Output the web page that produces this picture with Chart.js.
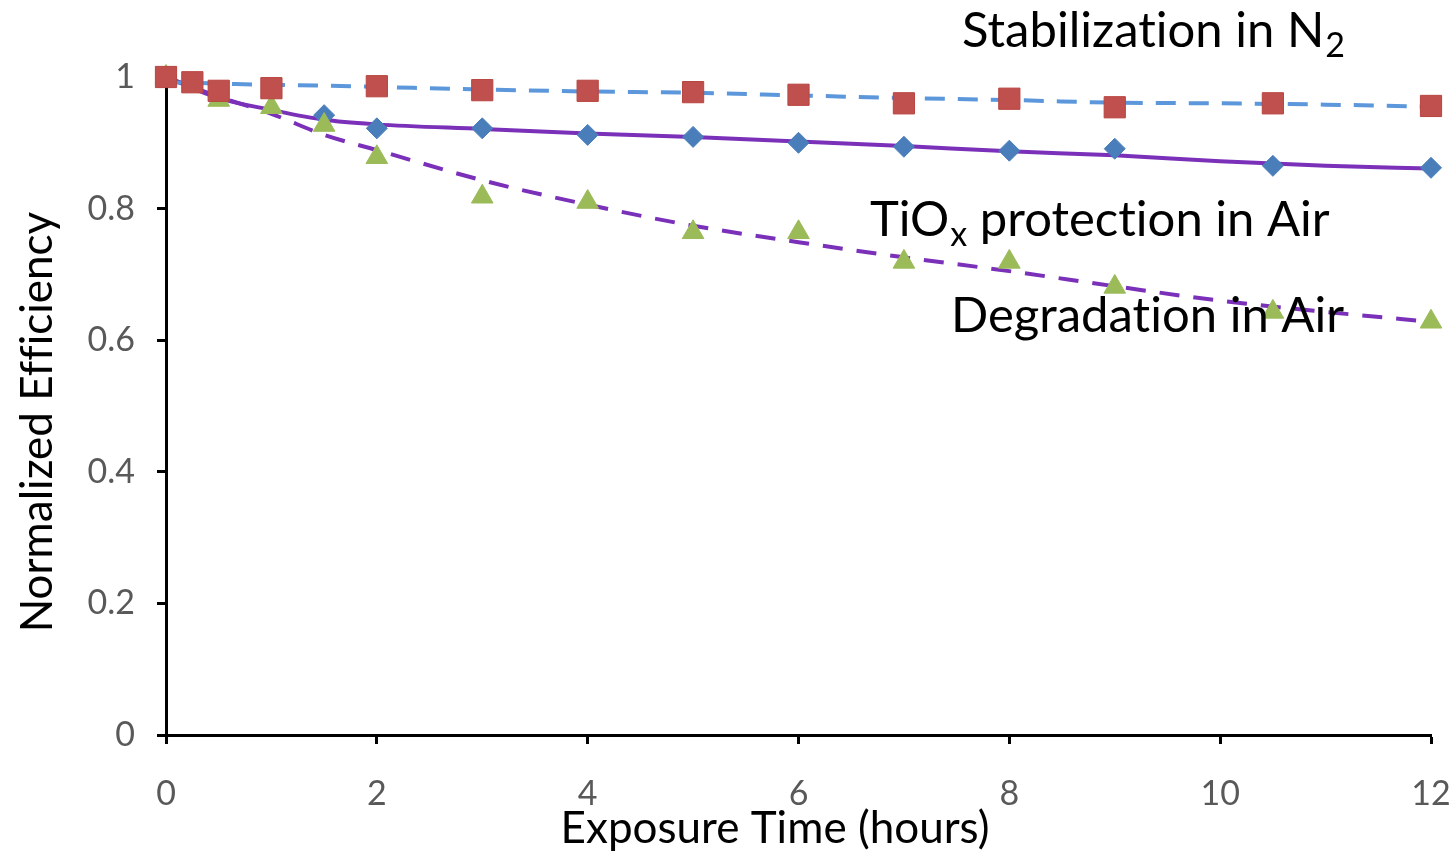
<!DOCTYPE html>
<html>
<head>
<meta charset="utf-8">
<script src="https://cdn.jsdelivr.net/npm/chart.js@4"></script>
<style>
html,body{margin:0;padding:0;background:#fff;}
#wrap{width:1456px;height:854px;}
</style>
</head>
<body>
<div id="wrap"><canvas id="c" width="1456" height="854"></canvas></div>
<script>
// ---- data ----
const xTicks = [0, 2, 4, 6, 8, 10, 12];
const yTicks = [0, 0.2, 0.4, 0.6, 0.8, 1];

const hoursN2 = [0, 0.25, 0.5, 1, 2, 3, 4, 5, 6, 7, 8, 9, 10.5, 12];
const effN2   = [1.0, 0.992, 0.979, 0.983, 0.986, 0.980, 0.979, 0.977, 0.973, 0.960, 0.967, 0.954, 0.960, 0.956];

const hoursTiOx = [0, 1.5, 2, 3, 4, 5, 6, 7, 8, 9, 10.5, 12];
const effTiOx   = [1.0, 0.942, 0.922, 0.922, 0.912, 0.909, 0.900, 0.894, 0.888, 0.891, 0.865, 0.862];

const hoursAir = [0, 0.5, 1, 1.5, 2, 3, 4, 5, 6, 7, 8, 9, 10.5, 12];
const effAir   = [1.0, 0.965, 0.954, 0.927, 0.878, 0.818, 0.810, 0.764, 0.764, 0.719, 0.719, 0.681, 0.643, 0.628];

const trendHours = [0, 0.5, 1, 1.5, 2, 3, 4, 5, 6, 7, 8, 9, 10, 11, 12];
const trendN2    = [0.992, 0.990, 0.988, 0.987, 0.985, 0.981, 0.978, 0.976, 0.972, 0.968, 0.965, 0.961, 0.960, 0.958, 0.955];
const trendTiOx  = [1.0, 0.968, 0.950, 0.935, 0.928, 0.921, 0.914, 0.909, 0.902, 0.895, 0.887, 0.881, 0.872, 0.865, 0.861];
const trendAir   = [1.0, 0.970, 0.944, 0.912, 0.889, 0.843, 0.806, 0.774, 0.749, 0.726, 0.705, 0.682, 0.660, 0.643, 0.628];

const labelN2   = ['Stabilization in N', '2'];
const labelTiOx = ['TiO', 'x', ' protection in Air'];
const labelAir  = 'Degradation in Air';
const xTitle = 'Exposure Time (hours)';
const yTitle = 'Normalized Efficiency';

// ---- helpers ----
const pts = (xs, ys) => xs.map((x, i) => ({x: x, y: ys[i]}));
const FONT = 'Lato';

const textPlugin = {
  id: 'texts',
  afterDraw(chart) {
    const ctx = chart.ctx;
    ctx.save();
    ctx.fillStyle = '#000';
    ctx.textBaseline = 'alphabetic';
    ctx.textAlign = 'left';
    if ('letterSpacing' in ctx) ctx.letterSpacing = '0.01px';
    const big = '49px ' + FONT;
    const sub = '34px ' + FONT;
    // Stabilization in N2
    ctx.font = big;
    let x = 962, y = 47;
    ctx.fillText(labelN2[0], x, y);
    x += ctx.measureText(labelN2[0]).width + 1;
    ctx.font = sub;
    ctx.fillText(labelN2[1], x, y + 10);
    // TiOx protection in Air
    ctx.font = big;
    x = 870; y = 236;
    ctx.fillText(labelTiOx[0], x, y);
    x += ctx.measureText(labelTiOx[0]).width + 1;
    ctx.font = sub;
    ctx.fillText(labelTiOx[1], x, y + 10);
    x += ctx.measureText(labelTiOx[1]).width;
    ctx.font = big;
    ctx.fillText(labelTiOx[2], x, y);
    // Degradation in Air
    ctx.fillText(labelAir, 951, 332);
    // axis titles
    ctx.font = '44px ' + FONT;
    ctx.textAlign = 'center';
    ctx.fillText(xTitle, 775, 843);
    ctx.save();
    ctx.translate(52, 422);
    ctx.rotate(-Math.PI / 2);
    ctx.fillText(yTitle, 0, 0);
    ctx.restore();
    ctx.restore();
  }
};

const axisCommon = {
  grid: {display: true, drawOnChartArea: false, drawTicks: true, tickLength: 9, tickWidth: 3, tickColor: '#000', color: '#000'},
  border: {display: true, color: '#000', width: 3}
};

new Chart(document.getElementById('c'), {
  type: 'scatter',
  data: {
    datasets: [
      {label: 'N2 trend', data: pts(trendHours, trendN2), showLine: true, borderColor: '#5B97DA', borderWidth: 4,
       borderDash: [20, 13], pointRadius: 0, cubicInterpolationMode: 'monotone', order: 5, clip: false},
      {label: 'TiOx trend', data: pts(trendHours, trendTiOx), showLine: true, borderColor: '#7A30B8', borderWidth: 4,
       pointRadius: 0, cubicInterpolationMode: 'monotone', order: 5, clip: false},
      {label: 'Air trend', data: pts(trendHours, trendAir), showLine: true, borderColor: '#7A30B8', borderWidth: 4,
       borderDash: [20, 14], pointRadius: 0, cubicInterpolationMode: 'monotone', order: 6, clip: false},
      {label: 'Stabilization in N2', data: pts(hoursN2, effN2), pointStyle: 'rect', pointRadius: 15,
       backgroundColor: '#C0504D', borderColor: '#B84540', borderWidth: 1, order: 1, clip: false},
      {label: 'TiOx protection in Air', data: pts(hoursTiOx, effTiOx), pointStyle: 'rectRot', pointRadius: 10.5,
       backgroundColor: '#4A7EBB', borderColor: '#4A7EBB', borderWidth: 1, order: 3, clip: false},
      {label: 'Degradation in Air', data: pts(hoursAir, effAir), pointStyle: 'triangle', pointRadius: 12.5,
       backgroundColor: '#9BBB59', borderColor: '#9BBB59', borderWidth: 1, order: 2, clip: false}
    ]
  },
  options: {
    responsive: false,
    animation: false,
    events: [],
    layout: {padding: {top: 77, right: 25, left: 0, bottom: 0}},
    plugins: {legend: {display: false}, tooltip: {enabled: false}},
    scales: {
      x: Object.assign({}, axisCommon, {
        type: 'linear', min: 0, max: 12,
        afterBuildTicks: s => { s.ticks = xTicks.map(v => ({value: v})); },
        afterFit: s => { s.height = 119; s.paddingLeft = 0; s.paddingRight = 0; },
        ticks: {color: '#595959', font: {family: FONT, size: 34}, padding: 30, maxRotation: 0,
                callback: v => String(v)}
      }),
      y: Object.assign({}, axisCommon, {
        type: 'linear', min: 0, max: 1,
        afterBuildTicks: s => { s.ticks = yTicks.map(v => ({value: v})); },
        afterFit: s => { s.width = 166; s.paddingTop = 0; s.paddingBottom = 0; },
        ticks: {color: '#595959', font: {family: FONT, size: 34}, padding: 22,
                callback: v => String(v)}
      })
    }
  },
  plugins: [textPlugin]
});
</script>
</body>
</html>
